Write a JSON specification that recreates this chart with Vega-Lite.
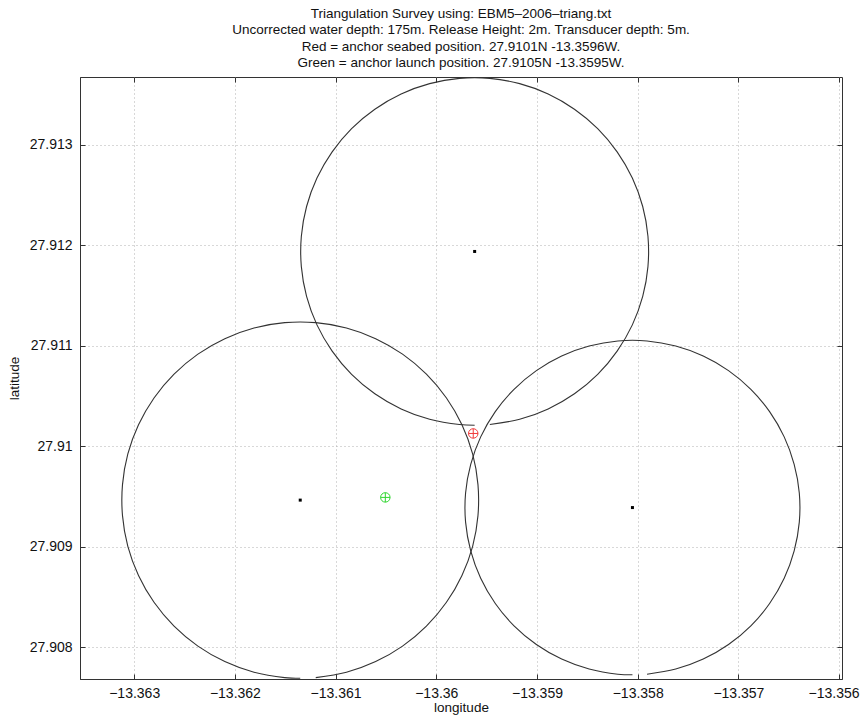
{
  "$schema": "https://vega.github.io/schema/vega-lite/v6.json",
  "width": 762,
  "height": 602,
  "autosize": "none",
  "padding": {"left": 80, "top": 77, "right": 19, "bottom": 36},
  "background": "white",
  "config": {
    "font": "Liberation Sans",
    "view": {"stroke": "#333333", "strokeWidth": 1}
  },
  "title": {
    "text": [
      "Triangulation Survey using: EBM5–2006–triang.txt",
      "Uncorrected water depth: 175m. Release Height: 2m. Transducer depth: 5m.",
      "Red = anchor seabed position. 27.9101N -13.3596W.",
      "Green = anchor launch position. 27.9105N -13.3595W."
    ],
    "font": "Liberation Sans",
    "fontSize": 13.5,
    "fontWeight": "normal",
    "color": "#111111",
    "lineHeight": 16.5,
    "anchor": "middle",
    "frame": "group",
    "offset": 7
  },
  "datasets": {
    "circles": [
      {"c": "T", "i": 0, "lon": -13.359468, "lat": 27.910217},
      {"c": "T", "i": 1, "lon": -13.359172, "lat": 27.910269},
      {"c": "T", "i": 2, "lon": -13.358889, "lat": 27.910372},
      {"c": "T", "i": 3, "lon": -13.358628, "lat": 27.910523},
      {"c": "T", "i": 4, "lon": -13.358397, "lat": 27.910716},
      {"c": "T", "i": 5, "lon": -13.358204, "lat": 27.910947},
      {"c": "T", "i": 6, "lon": -13.358053, "lat": 27.911208},
      {"c": "T", "i": 7, "lon": -13.35795, "lat": 27.911491},
      {"c": "T", "i": 8, "lon": -13.357898, "lat": 27.911787},
      {"c": "T", "i": 9, "lon": -13.357898, "lat": 27.912089},
      {"c": "T", "i": 10, "lon": -13.35795, "lat": 27.912385},
      {"c": "T", "i": 11, "lon": -13.358053, "lat": 27.912668},
      {"c": "T", "i": 12, "lon": -13.358204, "lat": 27.912929},
      {"c": "T", "i": 13, "lon": -13.358397, "lat": 27.91316},
      {"c": "T", "i": 14, "lon": -13.358628, "lat": 27.913353},
      {"c": "T", "i": 15, "lon": -13.358889, "lat": 27.913504},
      {"c": "T", "i": 16, "lon": -13.359172, "lat": 27.913607},
      {"c": "T", "i": 17, "lon": -13.359468, "lat": 27.913659},
      {"c": "T", "i": 18, "lon": -13.35977, "lat": 27.913659},
      {"c": "T", "i": 19, "lon": -13.360066, "lat": 27.913607},
      {"c": "T", "i": 20, "lon": -13.360349, "lat": 27.913504},
      {"c": "T", "i": 21, "lon": -13.36061, "lat": 27.913353},
      {"c": "T", "i": 22, "lon": -13.360841, "lat": 27.91316},
      {"c": "T", "i": 23, "lon": -13.361034, "lat": 27.912929},
      {"c": "T", "i": 24, "lon": -13.361185, "lat": 27.912668},
      {"c": "T", "i": 25, "lon": -13.361288, "lat": 27.912385},
      {"c": "T", "i": 26, "lon": -13.36134, "lat": 27.912089},
      {"c": "T", "i": 27, "lon": -13.36134, "lat": 27.911787},
      {"c": "T", "i": 28, "lon": -13.361288, "lat": 27.911491},
      {"c": "T", "i": 29, "lon": -13.361185, "lat": 27.911208},
      {"c": "T", "i": 30, "lon": -13.361034, "lat": 27.910947},
      {"c": "T", "i": 31, "lon": -13.360841, "lat": 27.910716},
      {"c": "T", "i": 32, "lon": -13.36061, "lat": 27.910523},
      {"c": "T", "i": 33, "lon": -13.360349, "lat": 27.910372},
      {"c": "T", "i": 34, "lon": -13.360066, "lat": 27.910269},
      {"c": "T", "i": 35, "lon": -13.35977, "lat": 27.910217},
      {"c": "T", "i": 36, "lon": -13.359619, "lat": 27.91021},
      {"c": "L", "i": 0, "lon": -13.361197, "lat": 27.9077},
      {"c": "L", "i": 1, "lon": -13.360892, "lat": 27.907753},
      {"c": "L", "i": 2, "lon": -13.360602, "lat": 27.907859},
      {"c": "L", "i": 3, "lon": -13.360335, "lat": 27.908013},
      {"c": "L", "i": 4, "lon": -13.360098, "lat": 27.908212},
      {"c": "L", "i": 5, "lon": -13.359899, "lat": 27.908449},
      {"c": "L", "i": 6, "lon": -13.359745, "lat": 27.908716},
      {"c": "L", "i": 7, "lon": -13.359639, "lat": 27.909006},
      {"c": "L", "i": 8, "lon": -13.359586, "lat": 27.909311},
      {"c": "L", "i": 9, "lon": -13.359586, "lat": 27.909619},
      {"c": "L", "i": 10, "lon": -13.359639, "lat": 27.909924},
      {"c": "L", "i": 11, "lon": -13.359745, "lat": 27.910214},
      {"c": "L", "i": 12, "lon": -13.359899, "lat": 27.910481},
      {"c": "L", "i": 13, "lon": -13.360098, "lat": 27.910718},
      {"c": "L", "i": 14, "lon": -13.360335, "lat": 27.910917},
      {"c": "L", "i": 15, "lon": -13.360602, "lat": 27.911071},
      {"c": "L", "i": 16, "lon": -13.360892, "lat": 27.911177},
      {"c": "L", "i": 17, "lon": -13.361197, "lat": 27.91123},
      {"c": "L", "i": 18, "lon": -13.361505, "lat": 27.91123},
      {"c": "L", "i": 19, "lon": -13.36181, "lat": 27.911177},
      {"c": "L", "i": 20, "lon": -13.3621, "lat": 27.911071},
      {"c": "L", "i": 21, "lon": -13.362367, "lat": 27.910917},
      {"c": "L", "i": 22, "lon": -13.362604, "lat": 27.910718},
      {"c": "L", "i": 23, "lon": -13.362803, "lat": 27.910481},
      {"c": "L", "i": 24, "lon": -13.362957, "lat": 27.910214},
      {"c": "L", "i": 25, "lon": -13.363063, "lat": 27.909924},
      {"c": "L", "i": 26, "lon": -13.363116, "lat": 27.909619},
      {"c": "L", "i": 27, "lon": -13.363116, "lat": 27.909311},
      {"c": "L", "i": 28, "lon": -13.363063, "lat": 27.909006},
      {"c": "L", "i": 29, "lon": -13.362957, "lat": 27.908716},
      {"c": "L", "i": 30, "lon": -13.362803, "lat": 27.908449},
      {"c": "L", "i": 31, "lon": -13.362604, "lat": 27.908212},
      {"c": "L", "i": 32, "lon": -13.362367, "lat": 27.908013},
      {"c": "L", "i": 33, "lon": -13.3621, "lat": 27.907859},
      {"c": "L", "i": 34, "lon": -13.36181, "lat": 27.907753},
      {"c": "L", "i": 35, "lon": -13.361505, "lat": 27.9077},
      {"c": "L", "i": 36, "lon": -13.361351, "lat": 27.907693},
      {"c": "R", "i": 0, "lon": -13.357907, "lat": 27.907734},
      {"c": "R", "i": 1, "lon": -13.357622, "lat": 27.907785},
      {"c": "R", "i": 2, "lon": -13.357349, "lat": 27.907884},
      {"c": "R", "i": 3, "lon": -13.357098, "lat": 27.908029},
      {"c": "R", "i": 4, "lon": -13.356876, "lat": 27.908215},
      {"c": "R", "i": 5, "lon": -13.35669, "lat": 27.908437},
      {"c": "R", "i": 6, "lon": -13.356545, "lat": 27.908688},
      {"c": "R", "i": 7, "lon": -13.356446, "lat": 27.908961},
      {"c": "R", "i": 8, "lon": -13.356395, "lat": 27.909246},
      {"c": "R", "i": 9, "lon": -13.356395, "lat": 27.909536},
      {"c": "R", "i": 10, "lon": -13.356446, "lat": 27.909821},
      {"c": "R", "i": 11, "lon": -13.356545, "lat": 27.910094},
      {"c": "R", "i": 12, "lon": -13.35669, "lat": 27.910345},
      {"c": "R", "i": 13, "lon": -13.356876, "lat": 27.910567},
      {"c": "R", "i": 14, "lon": -13.357098, "lat": 27.910753},
      {"c": "R", "i": 15, "lon": -13.357349, "lat": 27.910898},
      {"c": "R", "i": 16, "lon": -13.357622, "lat": 27.910997},
      {"c": "R", "i": 17, "lon": -13.357907, "lat": 27.911048},
      {"c": "R", "i": 18, "lon": -13.358197, "lat": 27.911048},
      {"c": "R", "i": 19, "lon": -13.358482, "lat": 27.910997},
      {"c": "R", "i": 20, "lon": -13.358755, "lat": 27.910898},
      {"c": "R", "i": 21, "lon": -13.359006, "lat": 27.910753},
      {"c": "R", "i": 22, "lon": -13.359228, "lat": 27.910567},
      {"c": "R", "i": 23, "lon": -13.359414, "lat": 27.910345},
      {"c": "R", "i": 24, "lon": -13.359559, "lat": 27.910094},
      {"c": "R", "i": 25, "lon": -13.359658, "lat": 27.909821},
      {"c": "R", "i": 26, "lon": -13.359709, "lat": 27.909536},
      {"c": "R", "i": 27, "lon": -13.359709, "lat": 27.909246},
      {"c": "R", "i": 28, "lon": -13.359658, "lat": 27.908961},
      {"c": "R", "i": 29, "lon": -13.359559, "lat": 27.908688},
      {"c": "R", "i": 30, "lon": -13.359414, "lat": 27.908437},
      {"c": "R", "i": 31, "lon": -13.359228, "lat": 27.908215},
      {"c": "R", "i": 32, "lon": -13.359006, "lat": 27.908029},
      {"c": "R", "i": 33, "lon": -13.358755, "lat": 27.907884},
      {"c": "R", "i": 34, "lon": -13.358482, "lat": 27.907785},
      {"c": "R", "i": 35, "lon": -13.358197, "lat": 27.907734},
      {"c": "R", "i": 36, "lon": -13.358052, "lat": 27.907728}
    ],
    "points": [
      {"kind": "center", "lon": -13.359619, "lat": 27.911938},
      {"kind": "center", "lon": -13.361351, "lat": 27.909465},
      {"kind": "center", "lon": -13.358052, "lat": 27.909391},
      {"kind": "seabed", "lon": -13.359633, "lat": 27.910128},
      {"kind": "launch", "lon": -13.360506, "lat": 27.909492}
    ]
  },
  "layer": [
    {
      "data": {"name": "circles"},
      "mark": {"type": "line", "stroke": "#333333", "strokeWidth": 1.1, "clip": true, "interpolate": "catmull-rom"},
      "encoding": {
        "x": {
          "field": "lon", "type": "quantitative",
          "scale": {"domain": [-13.363538, -13.355971], "nice": false, "zero": false},
          "axis": {
            "orient": "bottom",
            "values": [-13.363, -13.362, -13.361, -13.36, -13.359, -13.358, -13.357, -13.356],
            "format": ".6~r",
            "title": "longitude",
            "grid": true, "gridDash": [1, 3], "gridColor": "#b0b0b0", "gridWidth": 1,
            "tickSize": 0, "domainColor": "#333333",
            "labelPadding": 7, "labelFontSize": 14, "labelColor": "#111111", "labelFont": "Liberation Sans",
            "labelFlush": 5, "labelFlushOffset": 20, "labelOverlap": false,
            "titleFontSize": 13.5, "titleFontWeight": "normal", "titleColor": "#111111", "titleFont": "Liberation Sans",
            "titlePadding": 0
          }
        },
        "y": {
          "field": "lat", "type": "quantitative",
          "scale": {"domain": [27.907686, 27.913673], "nice": false, "zero": false},
          "axis": {
            "orient": "left",
            "values": [27.908, 27.909, 27.91, 27.911, 27.912, 27.913],
            "format": ".6~r",
            "title": "latitude",
            "grid": true, "gridDash": [1, 3], "gridColor": "#b0b0b0", "gridWidth": 1,
            "tickSize": 0, "domainColor": "#333333",
            "labelPadding": 8, "labelFontSize": 14, "labelColor": "#111111", "labelFont": "Liberation Sans",
            "labelFlush": false, "labelOverlap": false,
            "titleFontSize": 13.5, "titleFontWeight": "normal", "titleColor": "#111111", "titleFont": "Liberation Sans",
            "titlePadding": 8
          }
        },
        "detail": {"field": "c", "type": "nominal"},
        "order": {"field": "i", "type": "quantitative"}
      }
    },
    {
      "data": {"name": "points"},
      "transform": [{"filter": "datum.kind === 'center'"}],
      "mark": {"type": "point", "shape": "square", "filled": true, "color": "#000000", "size": 9, "opacity": 1},
      "encoding": {
        "x": {
          "field": "lon", "type": "quantitative",
          "axis": {"orient": "top", "offset": -5, "values": [-13.363, -13.362, -13.361, -13.36, -13.359, -13.358, -13.357, -13.356], "labels": false, "grid": false, "domain": false, "title": null, "tickSize": 5, "tickColor": "#333333"}
        },
        "y": {
          "field": "lat", "type": "quantitative",
          "axis": {"orient": "right", "offset": -5, "values": [27.908, 27.909, 27.91, 27.911, 27.912, 27.913], "labels": false, "grid": false, "domain": false, "title": null, "tickSize": 5, "tickColor": "#333333"}
        }
      }
    },
    {
      "data": {"name": "points"},
      "transform": [{"filter": "datum.kind !== 'center'"}],
      "mark": {"type": "point", "shape": "M-1,0A1,1,0,1,1,1,0A1,1,0,1,1,-1,0ZM-1,0L1,0M0,-1L0,1", "filled": false, "size": 90, "strokeWidth": 1, "opacity": 1},
      "encoding": {
        "x": {
          "field": "lon", "type": "quantitative",
          "axis": {"orient": "bottom", "offset": -5, "values": [-13.363, -13.362, -13.361, -13.36, -13.359, -13.358, -13.357, -13.356], "labels": false, "grid": false, "domain": false, "title": null, "tickSize": 5, "tickColor": "#333333"}
        },
        "y": {
          "field": "lat", "type": "quantitative",
          "axis": {"orient": "left", "offset": -5, "values": [27.908, 27.909, 27.91, 27.911, 27.912, 27.913], "labels": false, "grid": false, "domain": false, "title": null, "tickSize": 5, "tickColor": "#333333"}
        },
        "stroke": {
          "field": "kind", "type": "nominal",
          "scale": {"domain": ["seabed", "launch"], "range": ["#f03a3a", "#2fd62f"]},
          "legend": null
        }
      }
    }
  ],
  "resolve": {"axis": {"x": "independent", "y": "independent"}}
}
